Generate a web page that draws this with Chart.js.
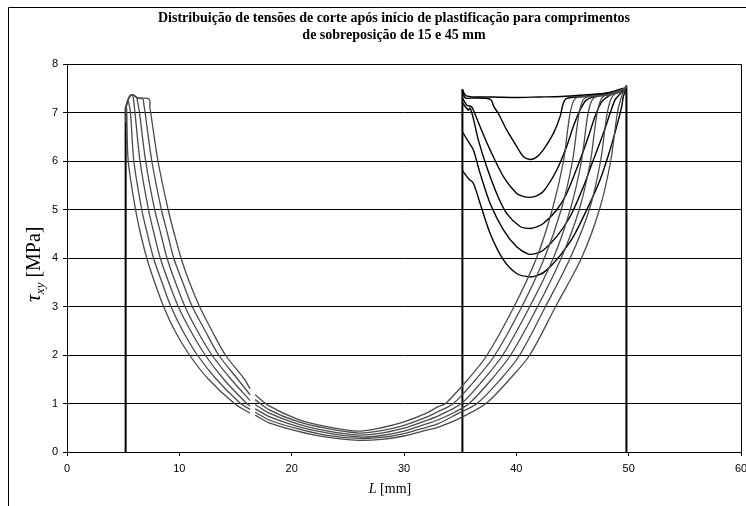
<!DOCTYPE html>
<html>
<head>
<meta charset="utf-8">
<script src="https://cdn.jsdelivr.net/npm/chart.js@4/dist/chart.umd.min.js"></script>
<style>
  html, body { margin: 0; padding: 0; background: #fff; }
  canvas { display: block; }
</style>
</head>
<body>
<canvas id="c" width="746" height="506"></canvas>
<script>
// ---- Titles / labels ----
const titleLines = ["Distribuição de tensões de corte após início de plastificação para comprimentos", "de sobreposição de 15 e 45 mm"];
const xTicks = [0, 10, 20, 30, 40, 50, 60];
const yTicks = [0, 1, 2, 3, 4, 5, 6, 7, 8];

// ---- vertical edges of the overlaps (L [mm], tau [MPa]) ----
const edge45Left = [[5.22,0],[5.22,7.1]];
const edge15Left = [[35.2,0],[35.2,7.48]];
const edgeRight = [[49.8,0],[49.8,7.55]];

// ---- 45 mm overlap: six load steps (L [mm], tau [MPa]); null = missing data ----
const overlap45_step0 = [[5.22,6.8],[5.28,7.12],[5.32,7.0],[5.45,6.0],[6.1,5.0],[6.55,4.5],[7.1,4.0],[7.8,3.5],[8.6,3.0],[9.6,2.5],[10.9,2.0],[12.6,1.5],[14.9,1.0],[16.3,0.80],[16.5,null],[16.75,0.76],[18,0.6],[20.5,0.43],[23,0.31],[26,0.24],[28,0.26],[30,0.33],[32,0.45],[33,0.51],[35,0.7],[37.3,1.0],[39.4,1.5],[41.2,2.0],[43.5,3.0],[45.8,4.0],[47.4,5.0],[48.4,6.0],[49.0,7.0],[49.4,7.35],[49.7,7.5],[49.8,7.55]];
const overlap45_step1 = [[5.22,7.0],[5.4,7.25],[5.5,7.2],[5.65,7.0],[5.95,6.0],[6.65,5.0],[7.15,4.5],[7.7,4.0],[8.45,3.5],[9.25,3.0],[10.3,2.5],[11.6,2.0],[13.3,1.5],[15.45,1.0],[16.3,0.88],[16.5,null],[16.75,0.82],[18,0.66],[20.5,0.48],[23,0.35],[26,0.28],[28,0.3],[30,0.38],[32,0.51],[33,0.58],[34.7,0.78],[36.5,1.0],[38.6,1.5],[40.3,2.0],[42.6,3.0],[44.8,4.0],[46.5,5.0],[47.5,6.0],[48.1,7.0],[48.6,7.35],[49.7,7.5],[49.8,7.55]];
const overlap45_step2 = [[5.22,7.1],[5.5,7.3],[5.8,7.37],[5.9,7.3],[6.05,7.0],[6.5,6.0],[7.25,5.0],[7.75,4.5],[8.3,4.0],[9.05,3.5],[9.9,3.0],[11.0,2.5],[12.3,2.0],[13.95,1.5],[16.0,1.0],[16.3,0.95],[16.5,null],[16.75,0.89],[18,0.73],[20.5,0.53],[23,0.4],[26,0.31],[28,0.34],[30,0.43],[32,0.58],[33,0.66],[34.5,0.82],[35.8,1.0],[37.8,1.5],[39.5,2.0],[41.9,3.0],[44.0,4.0],[45.6,5.0],[46.6,6.0],[47.2,7.0],[47.7,7.32],[49,7.42],[49.7,7.5],[49.8,7.55]];
const overlap45_step3 = [[5.22,7.1],[5.5,7.3],[5.8,7.37],[6.2,7.3],[6.3,7.2],[6.45,7.0],[7.0,6.0],[7.8,5.0],[8.35,4.5],[8.9,4.0],[9.65,3.5],[10.5,3.0],[11.6,2.5],[12.9,2.0],[14.6,1.5],[16.3,1.06],[16.5,null],[16.75,0.98],[18,0.8],[20.5,0.58],[23,0.44],[26,0.35],[28,0.39],[30,0.49],[32,0.65],[33,0.74],[35.1,1.0],[37.1,1.5],[38.8,2.0],[41.2,3.0],[43.3,4.0],[44.8,5.0],[45.8,6.0],[46.4,7.0],[46.9,7.3],[48.5,7.38],[49.7,7.5],[49.8,7.55]];
const overlap45_step4 = [[5.22,7.1],[5.5,7.3],[5.8,7.37],[6.3,7.3],[6.75,7.28],[6.85,7.15],[6.95,7.0],[7.55,6.0],[8.4,5.0],[8.95,4.5],[9.5,4.0],[10.3,3.5],[11.15,3.0],[12.3,2.5],[13.5,2.0],[15.2,1.5],[16.3,1.18],[16.5,null],[16.75,1.08],[18,0.87],[20.5,0.63],[23,0.49],[26,0.39],[28,0.44],[30,0.55],[32,0.72],[33,0.83],[34.4,1.0],[36.4,1.5],[38.1,2.0],[40.5,3.0],[42.5,4.0],[44.0,5.0],[45.0,6.0],[45.6,7.0],[46.1,7.3],[48,7.37],[49.7,7.5],[49.8,7.55]];
const overlap45_step5 = [[5.22,7.1],[5.5,7.3],[5.8,7.37],[6.3,7.3],[7.3,7.28],[7.38,7.1],[7.45,7.0],[8.1,6.0],[9.0,5.0],[9.55,4.5],[10.15,4.0],[10.9,3.5],[11.8,3.0],[12.9,2.5],[14.1,2.0],[15.8,1.5],[16.3,1.30],[16.5,null],[16.75,1.18],[18,0.95],[20.5,0.68],[23,0.53],[26,0.43],[28,0.5],[30,0.62],[32,0.8],[33,0.93],[33.7,1.0],[35.7,1.5],[37.4,2.0],[39.8,3.0],[41.8,4.0],[43.2,5.0],[44.2,6.0],[44.8,7.0],[45.3,7.3],[47,7.33],[49,7.4],[49.7,7.5],[49.8,7.55]];

// ---- 15 mm overlap: load steps (L [mm], tau [MPa]) ----
const overlap15_flat = [[35.2,7.48],[35.5,7.35],[36.5,7.32],[38,7.32],[40,7.31],[42,7.32],[44,7.33],[46,7.36],[48,7.4],[49.5,7.45],[49.8,7.55]];
const overlap15_min60 = [[35.2,7.45],[35.45,7.3],[36.2,7.3],[37.7,7.27],[38.0,7.12],[38.4,6.98],[39.14,6.64],[40.03,6.3],[40.6,6.1],[41.22,6.03],[41.8,6.08],[42.4,6.23],[43.3,6.57],[43.89,6.91],[44.18,7.19],[44.48,7.29],[46,7.33],[48,7.4],[49.6,7.5],[49.8,7.5]];
const overlap15_min52 = [[35.2,7.3],[35.6,7.15],[36.0,7.12],[36.17,7.05],[36.77,6.71],[37.66,6.23],[38.85,5.68],[40.03,5.33],[40.6,5.27],[41.22,5.25],[41.8,5.28],[42.4,5.37],[43.59,5.81],[44.48,6.3],[45.07,6.71],[45.67,7.05],[46.26,7.26],[47.5,7.36],[49.6,7.45],[49.8,7.5]];
const overlap15_min46 = [[35.2,7.2],[35.73,7.05],[35.88,7.09],[36.17,6.88],[36.62,6.43],[37.36,5.88],[38.25,5.33],[39.14,4.92],[40.33,4.65],[41.07,4.61],[41.7,4.63],[42.4,4.71],[43.59,4.99],[44.48,5.33],[45.67,6.02],[46.41,6.5],[47.0,6.91],[47.6,7.22],[48.5,7.38],[49.7,7.5],[49.8,7.5]];
const overlap15_min41 = [[35.2,6.6],[35.73,6.4],[36.17,6.23],[36.77,5.75],[37.66,5.13],[38.85,4.58],[40.03,4.23],[41.07,4.08],[41.7,4.09],[42.4,4.16],[43.59,4.44],[44.78,4.85],[45.97,5.47],[46.85,6.02],[47.75,6.57],[48.34,6.98],[48.79,7.26],[49.3,7.4],[49.8,7.5]];
const overlap15_min36 = [[35.2,5.8],[35.73,5.64],[36.17,5.54],[36.77,5.13],[37.66,4.51],[38.85,3.96],[40.03,3.68],[41.22,3.61],[42.0,3.65],[42.7,3.75],[43.89,4.05],[45.07,4.44],[46.26,4.99],[47.45,5.61],[48.34,6.23],[48.93,6.71],[49.38,7.12],[49.53,7.33],[49.8,7.5]];

const series45 = [overlap45_step0, overlap45_step1, overlap45_step2, overlap45_step3, overlap45_step4, overlap45_step5];
const series15 = [overlap15_flat, overlap15_min60, overlap15_min52, overlap15_min46, overlap15_min41, overlap15_min36];
const edges = [edge45Left, edge15Left, edgeRight];

const toPts = arr => arr.map(p => ({x: p[0], y: p[1]}));
const datasets = [];
series45.forEach(s => datasets.push({data: toPts(s), borderColor: '#4a4a4a', borderWidth: 1.3, tension: 0.3}));
series15.forEach(s => datasets.push({data: toPts(s), borderColor: '#000000', borderWidth: 1.4, tension: 0.3}));
edges.forEach(s => datasets.push({data: toPts(s), borderColor: '#000000', borderWidth: 2, tension: 0}));
datasets.forEach(d => { d.showLine = true; d.pointRadius = 0; d.fill = false; d.spanGaps = false; });

const decor = {
  id: 'decor',
  afterDraw(chart) {
    const ctx = chart.ctx, a = chart.chartArea;
    ctx.save();
    // outer frame
    ctx.strokeStyle = '#000'; ctx.lineWidth = 1;
    ctx.beginPath(); ctx.moveTo(8.5, 506); ctx.lineTo(8.5, 7.5); ctx.lineTo(746, 7.5); ctx.stroke();
    // plot border
    ctx.beginPath(); ctx.rect(Math.round(a.left) + 0.5, Math.round(a.top) + 0.5, Math.round(a.right - a.left), Math.round(a.bottom - a.top)); ctx.stroke();
    // title
    ctx.fillStyle = '#000'; ctx.textAlign = 'center'; ctx.textBaseline = 'middle';
    ctx.font = 'bold 14px "Liberation Serif", "Times New Roman", serif';
    ctx.fillText(titleLines[0], 394, 18);
    ctx.fillText(titleLines[1], 394, 35);
    // x label
    ctx.textBaseline = 'alphabetic'; ctx.textAlign = 'left';
    const xl1 = 'L', xl2 = ' [mm]';
    ctx.font = 'italic 14px "Liberation Serif", serif';
    const w1 = ctx.measureText(xl1).width;
    ctx.font = '14px "Liberation Serif", serif';
    const w2 = ctx.measureText(xl2).width;
    let sx = 390 - (w1 + w2) / 2;
    ctx.font = 'italic 14px "Liberation Serif", serif'; ctx.fillText(xl1, sx, 493);
    ctx.font = '14px "Liberation Serif", serif'; ctx.fillText(xl2, sx + w1, 493);
    // y label
    ctx.translate(40, 302); ctx.rotate(-Math.PI / 2);
    ctx.font = 'italic 22px "Liberation Serif", serif';
    ctx.fillText('τ', 0, 0);
    let off = ctx.measureText('τ').width;
    ctx.font = 'italic 13px "Liberation Serif", serif';
    ctx.fillText('xy', off, 4);
    off += ctx.measureText('xy').width;
    ctx.font = '20px "Liberation Serif", serif';
    ctx.fillText(' [MPa]', off, 0);
    ctx.restore();
  }
};

new Chart(document.getElementById('c'), {
  type: 'scatter',
  data: { datasets },
  options: {
    responsive: false, animation: false, devicePixelRatio: 1,
    layout: { padding: { top: 64, right: 5, left: 0, bottom: 0 } },
    plugins: { legend: { display: false }, tooltip: { enabled: false }, title: { display: false } },
    scales: {
      x: {
        type: 'linear', min: xTicks[0], max: xTicks[xTicks.length - 1],
        afterBuildTicks: s => { s.ticks = xTicks.map(v => ({value: v})); },
        ticks: { color: '#000', font: { family: '"Liberation Sans", Arial, sans-serif', size: 11 }, padding: 6, maxRotation: 0, autoSkip: false },
        grid: { drawOnChartArea: false, drawTicks: true, tickLength: 4, color: '#000' },
        border: { color: '#000', width: 1 },
        afterFit: s => { s.height = 54; s.paddingRight = 0; s.paddingLeft = 0; }
      },
      y: {
        type: 'linear', min: yTicks[0], max: yTicks[yTicks.length - 1],
        afterBuildTicks: s => { s.ticks = yTicks.map(v => ({value: v})); },
        ticks: { color: '#000', font: { family: '"Liberation Sans", Arial, sans-serif', size: 11 }, padding: 5 },
        grid: { color: '#000', lineWidth: 1, drawTicks: true, tickLength: 4 },
        border: { color: '#000', width: 1 },
        afterFit: s => { s.width = 67; s.paddingTop = 0; s.paddingBottom = 0; }
      }
    }
  },
  plugins: [decor]
});
</script>
</body>
</html>
